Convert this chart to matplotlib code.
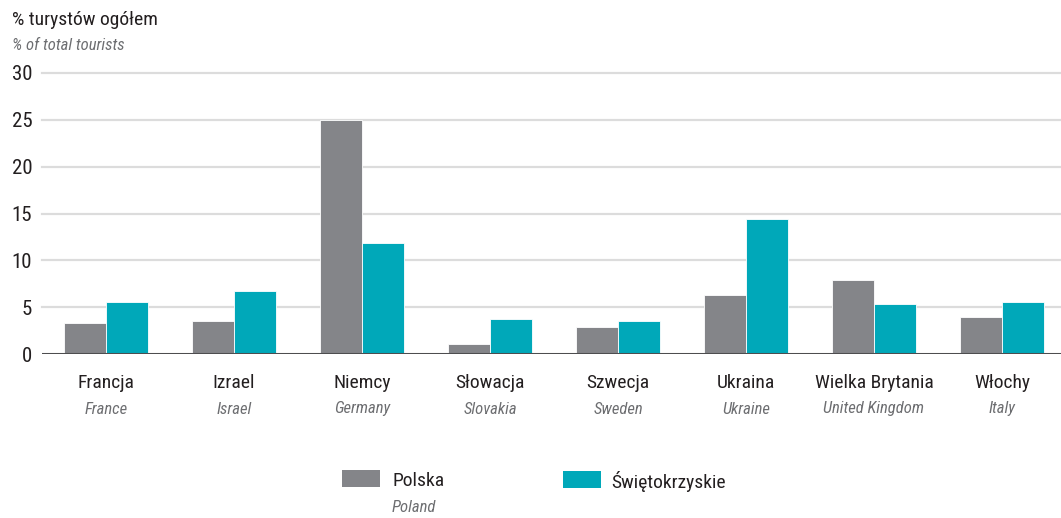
import matplotlib
matplotlib.use("Agg")
import matplotlib.pyplot as plt
from matplotlib.patches import Rectangle
from matplotlib import font_manager
import numpy as np

categories_pl = ["Francja", "Izrael", "Niemcy", "Słowacja", "Szwecja", "Ukraina", "Wielka Brytania", "Włochy"]
categories_en = ["France", "Israel", "Germany", "Slovakia", "Sweden", "Ukraine", "United Kingdom", "Italy"]
polska = [3.3, 3.5, 25.0, 1.1, 2.9, 6.3, 7.9, 3.9]
swietokrzyskie = [5.5, 6.7, 11.8, 3.7, 3.5, 14.4, 5.3, 5.5]
series_names = ["Polska", "Świętokrzyskie"]
series_names_en = ["Poland", ""]
yticks = [0, 5, 10, 15, 20, 25, 30]

names = {f.name for f in font_manager.fontManager.ttflist}
FONT = "DejaVu Sans"
for cand in ["Roboto Condensed", "Liberation Sans Narrow", "Open Sans Condensed", "Roboto", "Liberation Sans"]:
    if cand in names:
        FONT = cand
        break
plt.rcParams['font.family'] = [FONT, 'DejaVu Sans']
narrow = FONT in ("Roboto Condensed", "Liberation Sans Narrow", "Open Sans Condensed")
FS_MAIN = 14 if narrow else 12.5
FS_SUB = 12 if narrow else 10.8

GRAY = "#848589"
CYAN = "#00a8b9"
TXT = "#231f20"
SUB = "#6d6e71"

W, H = 1061, 518
fig = plt.figure(figsize=(W / 100, H / 100), dpi=100)
ax_left, ax_right, ax_top, ax_bottom = 42, 1066, 73, 354
ax = fig.add_axes([ax_left / W, (H - ax_bottom) / H, (ax_right - ax_left) / W, (ax_bottom - ax_top) / H])

x = np.arange(len(categories_pl))
bw = 0.33
ax.bar(x - bw / 2, polska, width=bw, color=GRAY, edgecolor="white", linewidth=0.6, zorder=3)
ax.bar(x + bw / 2, swietokrzyskie, width=bw, color=CYAN, edgecolor="white", linewidth=0.6, zorder=3)

ax.set_xlim(-0.5, len(categories_pl) - 0.5)
ax.set_ylim(0, 30)
ax.set_yticks(yticks)
ax.set_yticklabels([str(v) for v in yticks], fontsize=FS_MAIN + 1, color=TXT)
ax.tick_params(axis='y', length=0, pad=7)
ax.tick_params(axis='x', length=0, labelbottom=False)
for s in ax.spines.values():
    s.set_visible(False)
for v in yticks[1:]:
    ax.axhline(v, color="#dcdcdc", linewidth=1.6, zorder=1, clip_on=False)
ax.axhline(0, color="#4d4d4f", linewidth=2.2, zorder=4)

for i, (pl, en) in enumerate(zip(categories_pl, categories_en)):
    ax.annotate(pl, xy=(x[i], 0), xycoords='data', xytext=(0, -29), textcoords='offset pixels',
                ha='center', va='center', fontsize=FS_MAIN, color=TXT)
    ax.annotate(en, xy=(x[i], 0), xycoords='data', xytext=(0, -55), textcoords='offset pixels',
                ha='center', va='center', fontsize=FS_SUB, color=SUB, style='italic')

fig.text(12 / W, 1 - 20 / H, "% turystów ogółem", fontsize=FS_MAIN, color=TXT, ha='left', va='center')
fig.text(12 / W, 1 - 45 / H, "% of total tourists", fontsize=FS_SUB, color=SUB, ha='left', va='center', style='italic')

# legend
leg = [(342, 470, GRAY, 392), (563, 471, CYAN, 611)]
for (px, py, c, tx), nm, en in zip(leg, series_names, series_names_en):
    fig.add_artist(Rectangle((px / W, 1 - (py + 17) / H), 38 / W, 17 / H, transform=fig.transFigure,
                             facecolor=c, edgecolor='none'))
    fig.text(tx / W, 1 - 481 / H, nm, fontsize=FS_MAIN, color=TXT, ha='left', va='center')
    if en:
        fig.text(tx / W, 1 - 508 / H, en, fontsize=FS_SUB, color=SUB, ha='left', va='center', style='italic')

fig.savefig("out.png", dpi=100, facecolor="white")
